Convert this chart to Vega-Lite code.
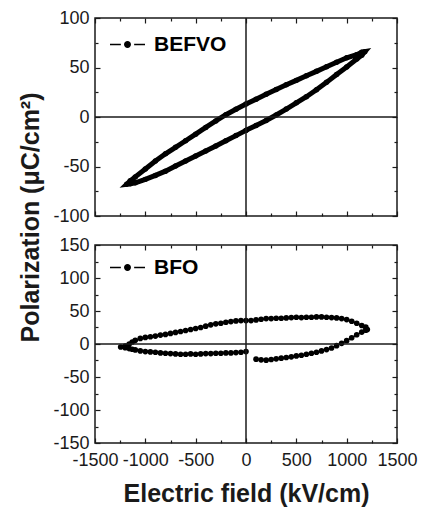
{
"$schema":"https://vega.github.io/schema/vega-lite/v6.json",
"padding":{"left":18,"top":8,"right":2,"bottom":0},
"background":"white",
"config":{
 "font":"Liberation Sans",
 "view":{"stroke":"#1a1a1a","strokeWidth":1.5},
 "axis":{"domain":false,"grid":false,"tickColor":"#1a1a1a","tickWidth":1.2,"labelFont":"Liberation Sans","labelFontSize":18,"labelColor":"#1a1a1a","labelFlush":false,"labelOverlap":false,"labelExpr":"'' + datum.value","titleFont":"Liberation Sans","titleFontSize":25,"titleFontWeight":"bold","titleColor":"#1a1a1a"}
},
"datasets":{
 "befvo":[
  {"i":0,"E":0,"P":-13.5},{"i":1,"E":100,"P":-8.5},{"i":2,"E":200,"P":-3.5},{"i":3,"E":300,"P":2},{"i":4,"E":400,"P":8},{"i":5,"E":500,"P":14.3},{"i":6,"E":600,"P":20.5},{"i":7,"E":700,"P":27.5},{"i":8,"E":800,"P":35},{"i":9,"E":900,"P":43},{"i":10,"E":1000,"P":50.5},{"i":11,"E":1100,"P":58.5},{"i":12,"E":1150,"P":62.5},{"i":13,"E":1180,"P":66},
  {"i":14,"E":1150,"P":65.5},{"i":15,"E":1100,"P":63},{"i":16,"E":1000,"P":59.8},{"i":17,"E":900,"P":55.3},{"i":18,"E":800,"P":50.7},{"i":19,"E":700,"P":46.1},{"i":20,"E":600,"P":41.6},{"i":21,"E":500,"P":37},{"i":22,"E":400,"P":32.5},{"i":23,"E":300,"P":27.8},{"i":24,"E":200,"P":23},{"i":25,"E":100,"P":18},{"i":26,"E":0,"P":13.1},{"i":27,"E":-100,"P":7.8},{"i":28,"E":-200,"P":2.3},{"i":29,"E":-300,"P":-4},{"i":30,"E":-400,"P":-10.5},{"i":31,"E":-500,"P":-17.3},{"i":32,"E":-600,"P":-24},{"i":33,"E":-700,"P":-30.6},{"i":34,"E":-800,"P":-37.2},{"i":35,"E":-900,"P":-44.5},{"i":36,"E":-1000,"P":-52.5},{"i":37,"E":-1100,"P":-60.5},{"i":38,"E":-1150,"P":-64.5},{"i":39,"E":-1185,"P":-68},
  {"i":40,"E":-1150,"P":-67.5},{"i":41,"E":-1100,"P":-66.5},{"i":42,"E":-1000,"P":-63},{"i":43,"E":-900,"P":-59},{"i":44,"E":-800,"P":-54.7},{"i":45,"E":-700,"P":-49.5},{"i":46,"E":-600,"P":-44.4},{"i":47,"E":-500,"P":-39.3},{"i":48,"E":-400,"P":-34.3},{"i":49,"E":-300,"P":-29.2},{"i":50,"E":-200,"P":-24.1},{"i":51,"E":-100,"P":-18.8},{"i":52,"E":0,"P":-13.5}
 ],
 "bfo":[
  {"i":0,"E":100,"P":-23},{"i":1,"E":150,"P":-24},{"i":2,"E":200,"P":-24.5},{"i":3,"E":250,"P":-23.5},{"i":4,"E":300,"P":-22.5},{"i":5,"E":350,"P":-21.5},{"i":6,"E":400,"P":-20.5},{"i":7,"E":450,"P":-19.5},{"i":8,"E":500,"P":-18},{"i":9,"E":550,"P":-17},{"i":10,"E":600,"P":-15.5},{"i":11,"E":650,"P":-14},{"i":12,"E":700,"P":-12.5},{"i":13,"E":750,"P":-10.5},{"i":14,"E":800,"P":-8.5},{"i":15,"E":850,"P":-6},{"i":16,"E":900,"P":-2.5},{"i":17,"E":950,"P":1},{"i":18,"E":1000,"P":5},{"i":19,"E":1050,"P":9.5},{"i":20,"E":1100,"P":14},{"i":21,"E":1150,"P":18},{"i":22,"E":1190,"P":21},{"i":23,"E":1205,"P":22},
  {"i":24,"E":1190,"P":25.5},{"i":25,"E":1150,"P":28},{"i":26,"E":1100,"P":31.5},{"i":27,"E":1050,"P":34.5},{"i":28,"E":1000,"P":37},{"i":29,"E":950,"P":38.5},{"i":30,"E":900,"P":39.5},{"i":31,"E":850,"P":40},{"i":32,"E":800,"P":40.5},{"i":33,"E":750,"P":41},{"i":34,"E":700,"P":41},{"i":35,"E":650,"P":40.5},{"i":36,"E":600,"P":40.5},{"i":37,"E":550,"P":40},{"i":38,"E":500,"P":40.5},{"i":39,"E":450,"P":40},{"i":40,"E":400,"P":39.5},{"i":41,"E":350,"P":39},{"i":42,"E":300,"P":39},{"i":43,"E":250,"P":38.5},{"i":44,"E":200,"P":38.5},{"i":45,"E":150,"P":37.5},{"i":46,"E":100,"P":36.5},{"i":47,"E":50,"P":35.5},{"i":48,"E":0,"P":35.5},{"i":49,"E":-50,"P":35.5},{"i":50,"E":-100,"P":35},{"i":51,"E":-150,"P":34},{"i":52,"E":-200,"P":33},{"i":53,"E":-250,"P":31.5},{"i":54,"E":-300,"P":30.5},{"i":55,"E":-350,"P":29},{"i":56,"E":-400,"P":27},{"i":57,"E":-450,"P":25},{"i":58,"E":-500,"P":23.5},{"i":59,"E":-550,"P":22},{"i":60,"E":-600,"P":20.5},{"i":61,"E":-650,"P":19},{"i":62,"E":-700,"P":17.5},{"i":63,"E":-750,"P":16},{"i":64,"E":-800,"P":14.5},{"i":65,"E":-850,"P":13.5},{"i":66,"E":-900,"P":12},{"i":67,"E":-950,"P":11},{"i":68,"E":-1000,"P":10},{"i":69,"E":-1050,"P":8.5},{"i":70,"E":-1100,"P":5.5},{"i":71,"E":-1130,"P":3},{"i":72,"E":-1160,"P":0},{"i":73,"E":-1200,"P":-3},{"i":74,"E":-1245,"P":-4.5},
  {"i":75,"E":-1200,"P":-5.5},{"i":76,"E":-1160,"P":-7},{"i":77,"E":-1130,"P":-8},{"i":78,"E":-1100,"P":-9},{"i":79,"E":-1050,"P":-10.5},{"i":80,"E":-1000,"P":-11.5},{"i":81,"E":-950,"P":-12},{"i":82,"E":-900,"P":-12.5},{"i":83,"E":-850,"P":-13.5},{"i":84,"E":-800,"P":-14},{"i":85,"E":-750,"P":-14.5},{"i":86,"E":-700,"P":-15},{"i":87,"E":-650,"P":-15.5},{"i":88,"E":-600,"P":-15.5},{"i":89,"E":-550,"P":-15},{"i":90,"E":-500,"P":-15.5},{"i":91,"E":-450,"P":-15},{"i":92,"E":-400,"P":-14.5},{"i":93,"E":-350,"P":-14.5},{"i":94,"E":-300,"P":-14},{"i":95,"E":-250,"P":-14},{"i":96,"E":-200,"P":-13.5},{"i":97,"E":-150,"P":-13.5},{"i":98,"E":-100,"P":-13},{"i":99,"E":-50,"P":-12.5},{"i":100,"E":0,"P":-11.5}
 ]
},
"spacing":29,
"bounds":"flush",
"resolve":{"scale":{"color":"independent"},"legend":{"color":"independent"}},
"vconcat":[
 {
  "width":302,"height":198,
  "data":{"name":"befvo"},
  "layer":[
   {"mark":{"type":"line","color":"black","strokeWidth":5,"point":{"filled":true,"size":30}},
    "encoding":{
     "x":{"field":"E","type":"quantitative","scale":{"domain":[-1500,1500],"nice":false,"zero":false},"axis":{"orient":"bottom","values":[-1500,-1000,-500,0,500,1000,1500],"labels":false,"tickSize":-5,"title":null}},
     "y":{"field":"P","type":"quantitative","scale":{"domain":[-100,100],"nice":false,"zero":false},"axis":{"orient":"left","values":[-100,-50,0,50,100],"tickSize":-5,"labelPadding":11,"title":null}},
     "order":{"field":"i","type":"quantitative"},
     "color":{"datum":"BEFVO","type":"nominal","scale":{"range":["black"]},
      "legend":{"orient":"none","legendX":14,"legendY":8,"padding":0,"title":null,"symbolType":"M-1,0H-0.38M0.38,0H1M-0.16,0A0.16,0.16,0,1,0,0.16,0A0.16,0.16,0,1,0,-0.16,0","symbolSize":1225,"symbolStrokeWidth":1.3,"symbolFillColor":"black","symbolStrokeColor":"black","labelFont":"Liberation Sans","labelFontSize":21,"labelFontWeight":"bold","labelColor":"black","labelOffset":8,
       "encode":{"symbols":{"update":{"fill":{"value":"black"},"stroke":{"value":"black"}}}}}}
    }},
   {"mark":{"type":"point","opacity":0},
    "encoding":{
     "x":{"field":"E","type":"quantitative","scale":{"domain":[-1500,1500],"nice":false,"zero":false},"axis":{"orient":"bottom","values":[-1250,-750,-250,250,750,1250],"labels":false,"tickSize":-3,"title":null}},
     "y":{"field":"P","type":"quantitative","scale":{"domain":[-100,100],"nice":false,"zero":false},"axis":{"orient":"left","values":[-75,-25,25,75],"labels":false,"tickSize":-3,"title":null}}
    }},
   {"mark":{"type":"point","opacity":0},
    "encoding":{
     "x":{"field":"E","type":"quantitative","scale":{"domain":[-1500,1500],"nice":false,"zero":false},"axis":{"orient":"top","values":[-1500,-1000,-500,0,500,1000,1500],"labels":false,"tickSize":-5,"title":null}},
     "y":{"field":"P","type":"quantitative","scale":{"domain":[-100,100],"nice":false,"zero":false},"axis":{"orient":"right","values":[-100,-50,0,50,100],"labels":false,"tickSize":-5,"title":null}}
    }},
   {"mark":{"type":"point","opacity":0},
    "encoding":{
     "x":{"field":"E","type":"quantitative","scale":{"domain":[-1500,1500],"nice":false,"zero":false},"axis":{"orient":"top","values":[-1250,-750,-250,250,750,1250],"labels":false,"tickSize":-3,"title":null}},
     "y":{"field":"P","type":"quantitative","scale":{"domain":[-100,100],"nice":false,"zero":false},"axis":{"orient":"right","values":[-75,-25,25,75],"labels":false,"tickSize":-3,"title":null}}
    }},
   {"data":{"values":[{}]},"mark":{"type":"rule","color":"#1a1a1a","strokeWidth":1.5},
    "encoding":{"x":{"datum":0,"type":"quantitative","axis":null}}},
   {"data":{"values":[{}]},"mark":{"type":"rule","color":"#1a1a1a","strokeWidth":1.5},
    "encoding":{"y":{"datum":0,"type":"quantitative","axis":null}}}
  ],
  "resolve":{"axis":{"x":"independent","y":"independent"}}
 },
 {
  "width":302,"height":198,
  "data":{"name":"bfo"},
  "layer":[
   {"mark":{"type":"line","color":"black","strokeWidth":1.5,"point":{"filled":true,"size":32}},
    "encoding":{
     "x":{"field":"E","type":"quantitative","scale":{"domain":[-1500,1500],"nice":false,"zero":false},"axis":{"orient":"bottom","values":[-1500,-1000,-500,0,500,1000,1500],"tickSize":-5,"labelPadding":13,"title":"Electric field (kV/cm)","titlePadding":12}},
     "y":{"field":"P","type":"quantitative","scale":{"domain":[-150,150],"nice":false,"zero":false},"axis":{"orient":"left","values":[-150,-100,-50,0,50,100,150],"tickSize":-5,"labelPadding":11,"title":"Polarization (μC/cm²)","titleY":-28,"titlePadding":9}},
     "order":{"field":"i","type":"quantitative"},
     "color":{"datum":"BFO","type":"nominal","scale":{"range":["black"]},
      "legend":{"orient":"none","legendX":14,"legendY":4,"padding":0,"title":null,"symbolType":"M-1,0H-0.38M0.38,0H1M-0.16,0A0.16,0.16,0,1,0,0.16,0A0.16,0.16,0,1,0,-0.16,0","symbolSize":1225,"symbolStrokeWidth":1.3,"symbolFillColor":"black","symbolStrokeColor":"black","labelFont":"Liberation Sans","labelFontSize":21,"labelFontWeight":"bold","labelColor":"black","labelOffset":8,
       "encode":{"symbols":{"update":{"fill":{"value":"black"},"stroke":{"value":"black"}}}}}}
    }},
   {"mark":{"type":"point","opacity":0},
    "encoding":{
     "x":{"field":"E","type":"quantitative","scale":{"domain":[-1500,1500],"nice":false,"zero":false},"axis":{"orient":"bottom","values":[-1250,-750,-250,250,750,1250],"labels":false,"tickSize":-3,"title":null}},
     "y":{"field":"P","type":"quantitative","scale":{"domain":[-150,150],"nice":false,"zero":false},"axis":{"orient":"left","values":[-125,-75,-25,25,75,125],"labels":false,"tickSize":-3,"title":null}}
    }},
   {"mark":{"type":"point","opacity":0},
    "encoding":{
     "x":{"field":"E","type":"quantitative","scale":{"domain":[-1500,1500],"nice":false,"zero":false},"axis":{"orient":"top","values":[-1500,-1000,-500,0,500,1000,1500],"labels":false,"tickSize":-5,"title":null}},
     "y":{"field":"P","type":"quantitative","scale":{"domain":[-150,150],"nice":false,"zero":false},"axis":{"orient":"right","values":[-150,-100,-50,0,50,100,150],"labels":false,"tickSize":-5,"title":null}}
    }},
   {"mark":{"type":"point","opacity":0},
    "encoding":{
     "x":{"field":"E","type":"quantitative","scale":{"domain":[-1500,1500],"nice":false,"zero":false},"axis":{"orient":"top","values":[-1250,-750,-250,250,750,1250],"labels":false,"tickSize":-3,"title":null}},
     "y":{"field":"P","type":"quantitative","scale":{"domain":[-150,150],"nice":false,"zero":false},"axis":{"orient":"right","values":[-125,-75,-25,25,75,125],"labels":false,"tickSize":-3,"title":null}}
    }},
   {"data":{"values":[{}]},"mark":{"type":"rule","color":"#1a1a1a","strokeWidth":1.5},
    "encoding":{"x":{"datum":0,"type":"quantitative","axis":null}}},
   {"data":{"values":[{}]},"mark":{"type":"rule","color":"#1a1a1a","strokeWidth":1.5},
    "encoding":{"y":{"datum":0,"type":"quantitative","axis":null}}}
  ],
  "resolve":{"axis":{"x":"independent","y":"independent"}}
 }
]
}
